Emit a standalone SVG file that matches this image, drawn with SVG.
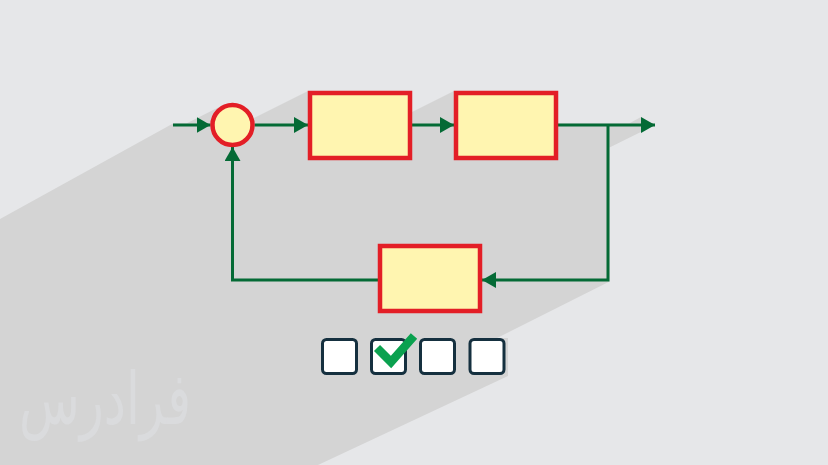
<svg xmlns="http://www.w3.org/2000/svg" width="828" height="465" viewBox="0 0 828 465">
  <defs>
    <marker id="arr" viewBox="0 0 14 16" refX="14" refY="8" markerWidth="14" markerHeight="16" markerUnits="userSpaceOnUse" orient="auto">
      <path d="M0,0 L14,8 L0,16 z" fill="#046a35"/>
    </marker>
    <style>
      .blk { fill: #fff5b0; stroke: #e31e26; stroke-width: 4.5; }
      .wire { fill: none; stroke: #046a35; stroke-width: 3; }
      .cb { fill: #ffffff; stroke: #15303f; stroke-width: 3; }
    </style>
  </defs>
  <rect x="0" y="0" width="828" height="465" fill="#e6e7e9"/>
  <polygon id="shadow" fill="#d4d4d4" points="0,219 173,123.5 186.3,123.5 222.7,105.3 240,112 254,118 308,91 412,91 412,112 454,91 558,91 558,123.5 629,123.5 641,117 655,125 609.5,147.5 609.5,281.5 497,338 508,338 508,376 318,465 0,465"/>
  <text x="105" y="424" font-family="DejaVu Sans, sans-serif" font-size="72" fill="#dadbdd" text-anchor="middle" textLength="172" lengthAdjust="spacingAndGlyphs">فرادرس</text>
  <g id="connectors">
    <path class="wire" d="M173,125 H210.5" marker-end="url(#arr)"/>
    <path class="wire" d="M254.5,125 H308" marker-end="url(#arr)"/>
    <path class="wire" d="M412,125 H454" marker-end="url(#arr)"/>
    <path class="wire" d="M558,125 H655" marker-end="url(#arr)"/>
    <path class="wire" d="M608,125 V280 H482" marker-end="url(#arr)"/>
    <path class="wire" d="M378,280 H232.5 V147" marker-end="url(#arr)"/>
  </g>
  <g id="sum"><circle class="blk" cx="232.5" cy="125" r="20"/></g>
  <g id="block1"><rect class="blk" x="310" y="93" width="100" height="65"/></g>
  <g id="block2"><rect class="blk" x="456" y="93" width="100" height="65"/></g>
  <g id="block3"><rect class="blk" x="380" y="246" width="100" height="65"/></g>
  <g id="checkboxes">
    <rect class="cb" x="322.5" y="339.5" width="34" height="34" rx="4"/>
    <rect class="cb" x="371.5" y="339.5" width="34" height="34" rx="4"/>
    <rect class="cb" x="420.5" y="339.5" width="34" height="34" rx="4"/>
    <rect class="cb" x="470" y="339.5" width="34" height="34" rx="4"/>
    <polyline points="377,348 391,362 414,336" fill="none" stroke="#0aa14f" stroke-width="8.5"/>
  </g>
</svg>
